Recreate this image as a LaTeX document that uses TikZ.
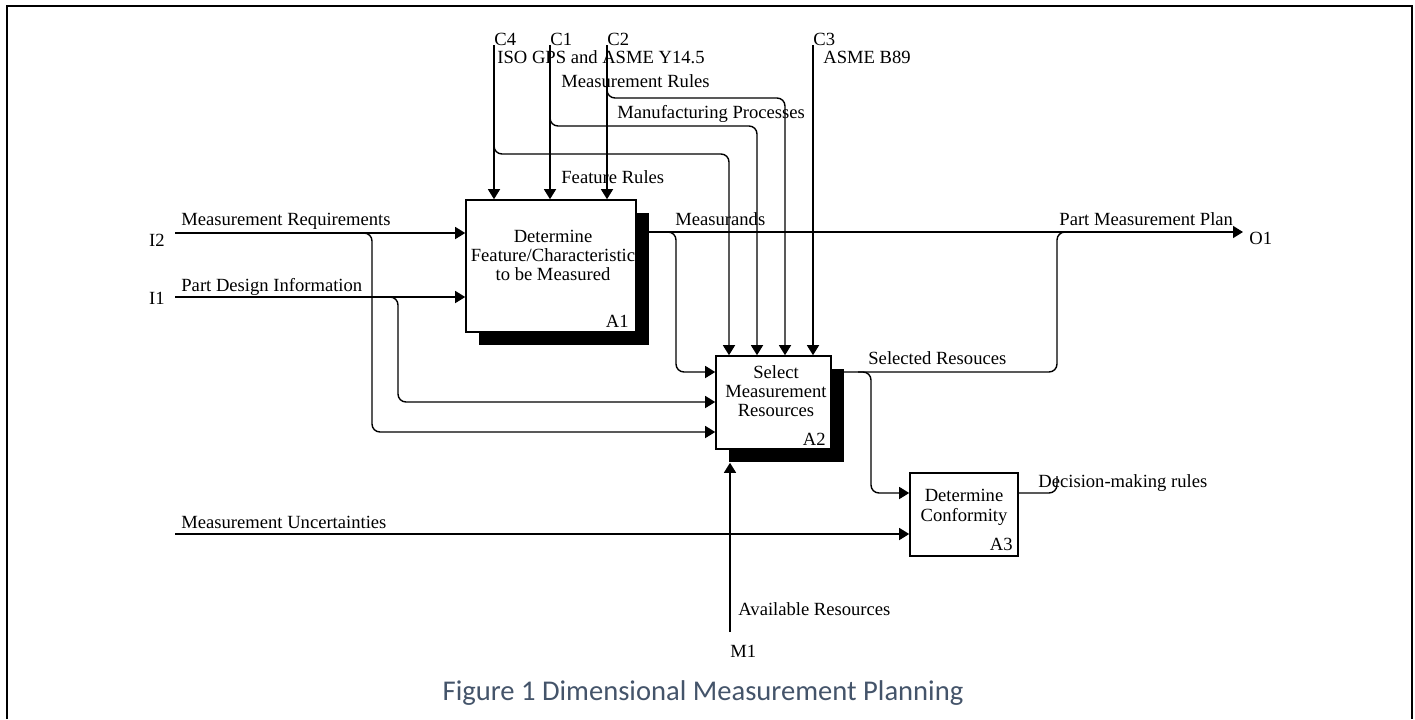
\documentclass[tikz,border=0pt]{standalone}
\usepackage{fontspec}
\setmainfont{Liberation Serif}
\newfontfamily\capfont{Carlito}
\usetikzlibrary{arrows.meta,shadows}
\definecolor{capblue}{HTML}{44546A}
\begin{document}
\begin{tikzpicture}[x=0.5pt,y=-0.5pt,
  lbl/.style={font=\fontsize{9.3}{9.3}\selectfont, inner sep=0pt, anchor=base west},
  conn/.style={line width=0.7pt, rounded corners=4pt},
  arr/.style={conn, -{Triangle[length=5pt,width=6pt]}},
  frameline/.style={line width=1.4pt},
  actbox/.style={draw, line width=0.8pt, fill=white, inner sep=0pt},
  shbox/.style={actbox, drop shadow={shadow xshift=6.5pt, shadow yshift=-6.5pt, opacity=1, fill=black}},
  boxtext/.style={font=\fontsize{9.3}{9.3}\selectfont, align=center, inner sep=0pt, anchor=base},
]
\useasboundingbox (0,0) rectangle (1415,719);
\draw[frameline] (7,719) -- (7,6) -- (1412,6) -- (1412,719);

% activity boxes
\node[shbox, minimum width=85pt, minimum height=66pt] (A1) at (551,266) {};
\node[shbox, minimum width=57.5pt, minimum height=46.5pt] (A2) at (773.5,402.5) {};
\node[actbox, minimum width=54pt, minimum height=41.5pt] (A3) at (964,514.5) {};

\node[boxtext] (A1t) at (553,280) {Determine\\Feature/Characteristic\\to be Measured};
\node[lbl, anchor=base east] (A1n) at (629,327) {A1};
\node[boxtext] (A2t) at (776,416) {Select\\Measurement\\Resources};
\node[lbl, anchor=base east] (A2n) at (826,445) {A2};
\node[boxtext, font=\fontsize{9.3}{9.8}\selectfont] (A3t) at (964,521) {Determine\\Conformity};
\node[lbl, anchor=base east] (A3n) at (1013,550) {A3};

% free ends
\coordinate (I2s) at (175,233);
\coordinate (I1s) at (175,297);
\coordinate (MUs) at (175,534);
\coordinate (C4s) at (494,45);
\coordinate (C1s) at (550,45);
\coordinate (C2s) at (607,45);
\coordinate (C3s) at (813,45);
\coordinate (O1e) at (1243,232);
\coordinate (M1s) at (730,632);

% inputs
\draw[arr] (I2s) -- (I2s -| A1.west);
\draw[arr] (I1s) -- (I1s -| A1.west);
\draw[arr] (355,233) -- (372,233) -- (372,432) -- (A2.west |- 0,432);
\draw[arr] (385,297) -- (398,297) -- (398,402) -- (A2.west |- 0,402);
\draw[arr] (MUs) -- (MUs -| A3.west);

% A1 output
\draw[arr] (A1.east |- 0,232) -- (O1e);
\draw[arr] (664,232) -- (676,232) -- (676,372) -- (A2.west |- 0,372);

% controls
\draw[arr] (C4s) -- (C4s |- A1.north);
\draw[arr] (C1s) -- (C1s |- A1.north);
\draw[arr] (C2s) -- (C2s |- A1.north);
\draw[arr] (494,140) -- (494,154) -- (729,154) -- (A2.north -| 729,0);
\draw[arr] (550,112) -- (550,126) -- (757,126) -- (A2.north -| 757,0);
\draw[arr] (607,84) -- (607,98) -- (785,98) -- (A2.north -| 785,0);
\draw[arr] (C3s) -- (C3s |- A2.north);

% A2 outputs
\draw[conn] (A2.east |- 0,372) -- (1057,372) -- (1057,232) -- (1075,232);
\draw[arr] (858,372) -- (871,372) -- (871,493) -- (A3.west |- 0,493);
% A3 output
\draw[conn] (A3.east |- 0,493) -- (1057,493) -- (1057,476);

% mechanism
\draw[arr] (M1s) -- ([yshift=-6.5pt]A2.south -| M1s);

% labels
\node[lbl, anchor=base east] (I2) at (165,246) {I2};
\node[lbl, anchor=base east] (I1) at (165,304) {I1};
\node[lbl] (O1) at (1249,244) {O1};
\node[lbl] (M1) at (730,657) {M1};
\node[lbl] (C4) at (494,45) {C4};
\node[lbl] (C1) at (550,45) {C1};
\node[lbl] (C2) at (607,45) {C2};
\node[lbl] (C3) at (813,45) {C3};

\node[lbl] (lMR) at (181,225) {Measurement Requirements};
\node[lbl] (lPD) at (181,291) {Part Design Information};
\node[lbl] (lMU) at (181,528) {Measurement Uncertainties};
\node[lbl] (lISO) at (497,63) {ISO GPS and ASME Y14.5};
\node[lbl] (lMRu) at (561,87) {Measurement Rules};
\node[lbl] (lMP) at (617,118) {Manufacturing Processes};
\node[lbl] (lFR) at (561,183) {Feature Rules};
\node[lbl] (lB89) at (823,63) {ASME B89};
\node[lbl] (lMs) at (675,225) {Measurands};
\node[lbl] (lPMP) at (1059,225) {Part Measurement Plan};
\node[lbl] (lSR) at (868,364) {Selected Resouces};
\node[lbl] (lDM) at (1038,487) {Decision-making rules};
\node[lbl] (lAR) at (738,615) {Available Resources};

\node[font=\capfont\fontsize{14.3}{14.3}\selectfont, text=capblue, anchor=base, inner sep=0pt] (cap) at (703,700) {Figure 1 Dimensional Measurement Planning};
\end{tikzpicture}
\end{document}
